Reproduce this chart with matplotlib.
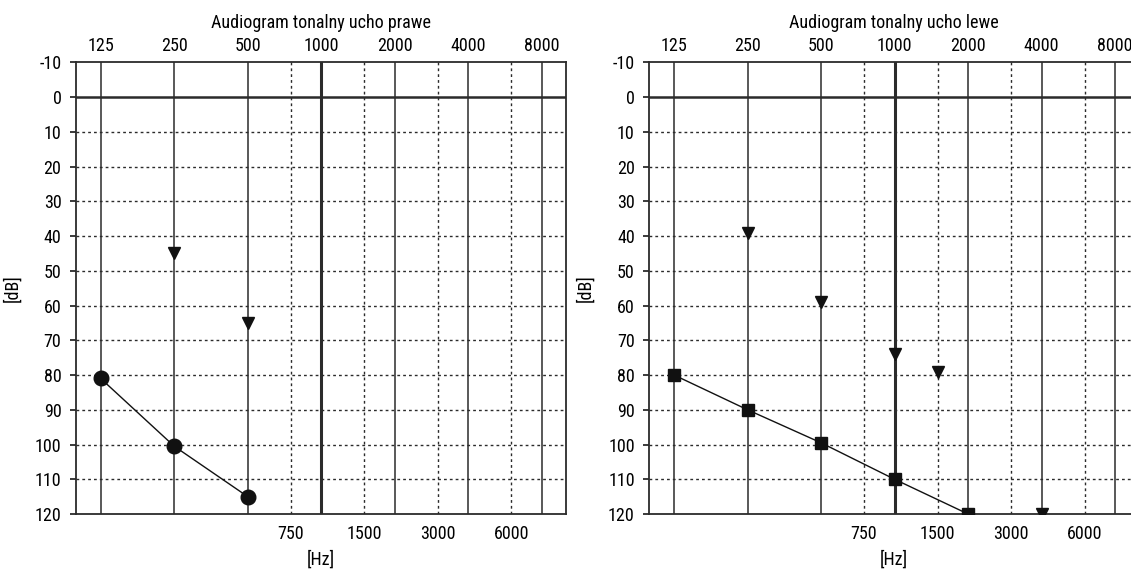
import numpy as np
import matplotlib
matplotlib.use("Agg")
import matplotlib.pyplot as plt
import logging

logging.getLogger('matplotlib.font_manager').setLevel(logging.ERROR)
plt.rcParams['font.family'] = ['Roboto Condensed', 'Liberation Sans Narrow',
                               'Roboto', 'DejaVu Sans']

# frequencies drawn on the grid
freq_major = [125, 250, 500, 1000, 2000, 4000, 8000]
freq_minor = [750, 1500, 3000, 6000]
db_ticks = list(range(-10, 121, 10))

# right ear (circles = air, triangles = bone)
right_air_f = [125, 250, 500]
right_air_db = [81, 100.5, 115]
right_bone_f = [250, 500]
right_bone_db = [45, 65]

# left ear (squares = air, triangles = bone)
left_air_f = [125, 250, 500, 1000, 2000]
left_air_db = [80, 90, 99.5, 110, 120]
left_bone_f = [250, 500, 1000, 1500, 4000]
left_bone_db = [39, 59, 74, 79, 120]

titles = ['Audiogram tonalny ucho prawe', 'Audiogram tonalny ucho lewe']

W, H = 1131, 570
fig = plt.figure(figsize=(W / 100, H / 100), dpi=100)

ax_w = 489.7 / W
ax_h = (514 - 62.3) / H
ax_b = 1 - 514 / H
axes = [fig.add_axes([76 / W, ax_b, ax_w, ax_h]),
        fig.add_axes([649.3 / W, ax_b, ax_w, ax_h])]

col = '#2b2b2b'
fs = 13


def setup(ax, title):
    ax.set_xscale('log', base=2)
    ax.set_xlim(99, 10030)
    ax.set_ylim(120, -10)

    # vertical lines
    for f in freq_major:
        lw = 2.2 if f == 1000 else 1.1
        ax.axvline(f, color=col, lw=lw, zorder=1)
    for f in freq_minor:
        ax.axvline(f, color=col, lw=1.0, ls=(0, (2, 2.2)), zorder=1)
    # horizontal lines
    for d in db_ticks[1:-1]:
        if d == 0:
            ax.axhline(d, color=col, lw=1.8, zorder=1)
        else:
            ax.axhline(d, color=col, lw=1.0, ls=(0, (2, 2.2)), zorder=1)

    ax.set_xticks(freq_major)
    ax.set_xticklabels([str(f) for f in freq_major])
    ax.set_xticks(freq_minor, minor=True)
    ax.set_xticklabels([str(f) for f in freq_minor], minor=True)
    ax.tick_params(axis='x', which='major', top=False, bottom=False,
                   labeltop=True, labelbottom=False, labelsize=fs, pad=2)
    ax.tick_params(axis='x', which='minor', top=False, bottom=False,
                   labeltop=False, labelbottom=True, labelsize=fs, pad=6)

    ax.set_yticks(db_ticks)
    ax.set_yticklabels([str(d) for d in db_ticks])
    ax.tick_params(axis='y', which='both', length=4.5, width=1.3, color=col,
                   labelsize=fs, pad=6)
    ax.yaxis.set_minor_locator(plt.NullLocator())

    for s in ax.spines.values():
        s.set_color(col)
        s.set_linewidth(1.3)

    ax.set_xlabel('[Hz]', fontsize=fs, labelpad=5)
    ax.set_ylabel('[dB]', fontsize=fs)
    ax.yaxis.set_label_coords(-0.112, 0.5)
    ax.set_title(title, fontsize=fs, pad=25)


for ax, t in zip(axes, titles):
    setup(ax, t)

ax = axes[0]
ax.plot(right_air_f, right_air_db, color='#111111', lw=1.0, marker='o',
        ms=10.5, zorder=3)
ax.plot(right_bone_f, right_bone_db, color='#111111', ls='none', marker='v',
        ms=8, zorder=3)

ax = axes[1]
ax.plot(left_air_f, left_air_db, color='#111111', lw=1.0, marker='s',
        ms=8, zorder=3)
ax.plot(left_bone_f, left_bone_db, color='#111111', ls='none', marker='v',
        ms=8, zorder=3)

fig.savefig('out.png', dpi=100)
